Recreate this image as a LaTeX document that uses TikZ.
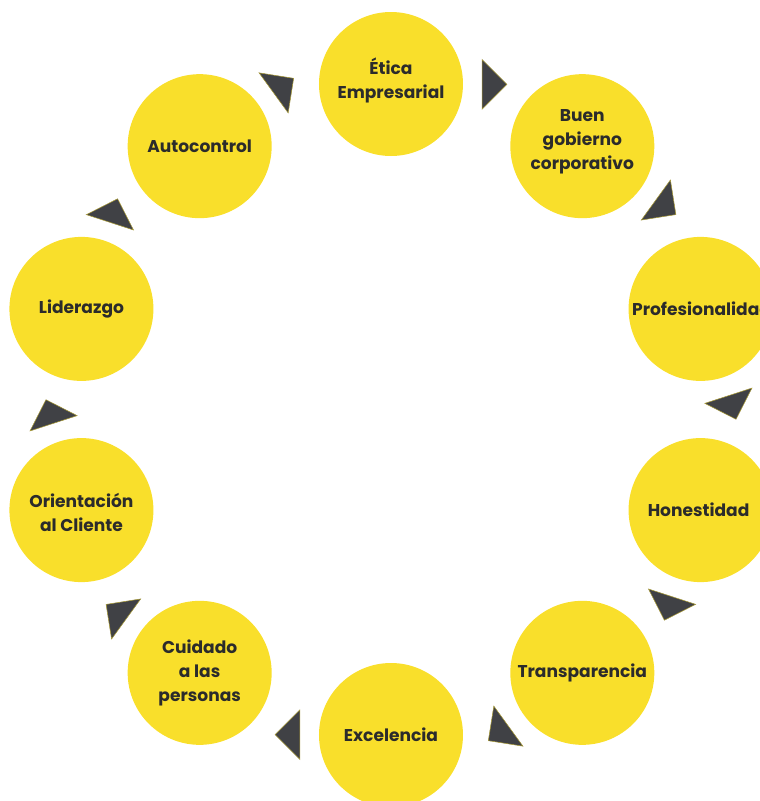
\documentclass[tikz,border=0pt]{standalone}
\usepackage{fontspec}
\setmainfont{Poppins}
\definecolor{ringyellow}{HTML}{F9DF2B}
\definecolor{arrowgray}{HTML}{404145}
\definecolor{labelgray}{HTML}{2B2B2B}
\begin{document}
\begin{tikzpicture}[x=0.75pt,y=0.75pt,
  bubble/.style={circle,fill=ringyellow,minimum size=108pt,inner sep=0pt},
  lbl/.style={align=center,font=\fontsize{12.8}{18}\selectfont\bfseries,text=labelgray,inner sep=0pt},
  pointer/.style={fill=arrowgray,draw=ringyellow!55!arrowgray,line width=0.4pt,line join=miter}]
\useasboundingbox (-391,-391.5) rectangle (369,409.5);
\clip (-391,-391.5) rectangle (369,409.5);
% bubbles
\node[bubble] (c0) at (90:325.5) {};
\node[bubble] (c1) at (54:325.5) {};
\node[bubble] (c2) at (18:325.5) {};
\node[bubble] (c3) at (-18:325.5) {};
\node[bubble] (c4) at (-54:325.5) {};
\node[bubble] (c5) at (-90:325.5) {};
\node[bubble] (c6) at (-126:325.5) {};
\node[bubble] (c7) at (-162:325.5) {};
\node[bubble] (c8) at (162:325.5) {};
\node[bubble] (c9) at (126:325.5) {};
% labels
\node[lbl,yshift=2.5] (l0) at (c0) {Ética\\Empresarial};
\node[lbl,yshift=3] (l1) at (c1) {Buen\\gobierno\\corporativo};
\node[lbl,anchor=west] (l2) at ([xshift=-51.5]c2.center) {Profesionalidad};
\node[lbl] (l3) at ([xshift=-1.5]c3) {Honestidad};
\node[lbl] (l4) at (c4) {Transparencia};
\node[lbl] (l5) at (c5) {Excelencia};
\node[lbl] (l6) at (c6) {Cuidado\\a las\\personas};
\node[lbl,yshift=-2] (l7) at (c7) {Orientación\\al Cliente};
\node[lbl] (l8) at (c8) {Liderazgo};
\node[lbl] (l9) at (c9) {Autocontrol};
% pointers
\foreach \k in {0,...,9} {
  \pgfmathsetmacro\th{72-36*\k}
  \path[pointer, shift={(\th+1:340)}, rotate=\th-72]
    (16.5,0) -- (-8.25,24.75) -- (-8.25,-24.75) -- cycle;
}
\end{tikzpicture}
\end{document}
